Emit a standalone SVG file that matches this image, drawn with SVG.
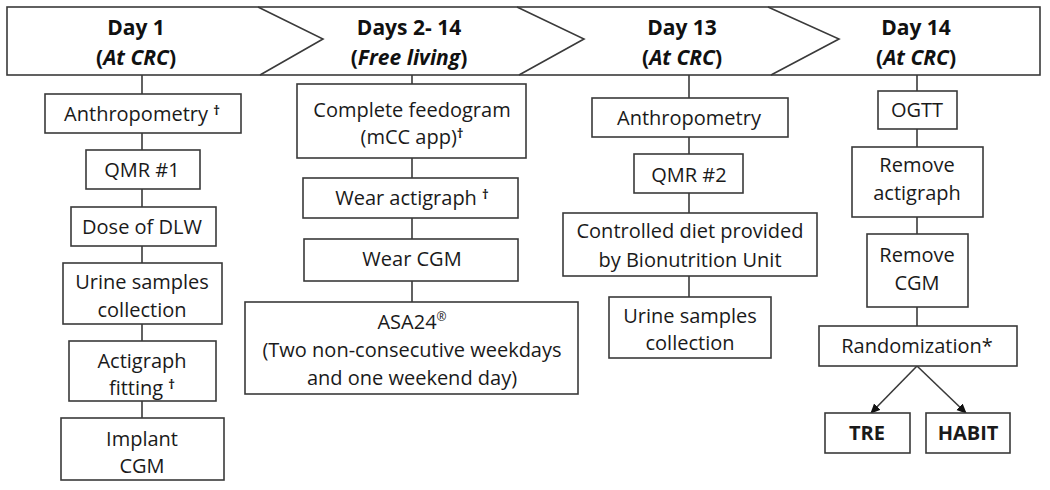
<svg xmlns="http://www.w3.org/2000/svg" width="1050" height="490" viewBox="0 0 1050 490">
<style>
.bx{fill:#fff;stroke:#3a3a3a;stroke-width:1.6}
.ln{fill:none;stroke:#3a3a3a;stroke-width:1.6}
.t{font-family:"Open Sans","Liberation Sans",sans-serif;font-size:20px;fill:#1a1a1a;text-anchor:middle}
.h{font-family:"Open Sans","Liberation Sans",sans-serif;font-size:21px;font-weight:bold;fill:#111;text-anchor:middle}
.b{font-weight:bold}
.i{font-style:italic}
.d{font-size:13px;font-weight:bold}
</style>
<defs>
<marker id="ah" markerWidth="10" markerHeight="10" refX="9" refY="5" orient="auto" markerUnits="userSpaceOnUse">
<path d="M0,0.5 L10,5 L0,9.5 Z" fill="#111"/>
</marker>
</defs>
<rect width="1050" height="490" fill="#fff"/>
<g id="header">
<rect class="bx" x="7" y="7" width="1033" height="68"/>
<polyline class="ln" points="258,7 323,39 260,75"/>
<polyline class="ln" points="517,7 584,39 519,75"/>
<polyline class="ln" points="768,7 839,39 771,75"/>
<text class="h" x="136" y="35">Day 1</text>
<text class="h" x="136" y="65">(<tspan class="i">At CRC</tspan>)</text>
<text class="h" x="409" y="35">Days 2- 14</text>
<text class="h" x="409" y="65">(<tspan class="i">Free living</tspan>)</text>
<text class="h" x="682" y="35">Day 13</text>
<text class="h" x="682" y="65">(<tspan class="i">At CRC</tspan>)</text>
<text class="h" x="916" y="35">Day 14</text>
<text class="h" x="916" y="65">(<tspan class="i">At CRC</tspan>)</text>
</g>
<g id="connectors">
<line class="ln" x1="142" y1="75" x2="142" y2="418"/>
<line class="ln" x1="412" y1="75" x2="412" y2="302"/>
<line class="ln" x1="689" y1="75" x2="689" y2="297"/>
<line class="ln" x1="917" y1="75" x2="917" y2="326"/>
<line class="ln" x1="917" y1="366" x2="871" y2="413" marker-end="url(#ah)"/>
<line class="ln" x1="917" y1="366" x2="966" y2="413" marker-end="url(#ah)"/>
</g>
<g id="n-anthro1"><rect class="bx" x="45" y="94" width="196" height="39"/><text class="t" x="142" y="121">Anthropometry <tspan class="d" dy="-6">†</tspan></text></g>
<g id="n-qmr1"><rect class="bx" x="86" y="150" width="114" height="39"/><text class="t" x="142" y="177">QMR #1</text></g>
<g id="n-dlw"><rect class="bx" x="71" y="207" width="145" height="39"/><text class="t" x="142" y="234">Dose of DLW</text></g>
<g id="n-urine1"><rect class="bx" x="63" y="263" width="159" height="61"/><text class="t" x="142" y="289">Urine samples</text><text class="t" x="142" y="317">collection</text></g>
<g id="n-actifit"><rect class="bx" x="69" y="341" width="147" height="60"/><text class="t" x="142" y="368">Actigraph</text><text class="t" x="142" y="395">fitting <tspan class="d" dy="-6">†</tspan></text></g>
<g id="n-implant"><rect class="bx" x="61" y="418" width="163" height="62"/><text class="t" x="142" y="446">Implant</text><text class="t" x="142" y="473">CGM</text></g>

<g id="n-feedogram"><rect class="bx" x="297" y="84" width="229" height="74"/><text class="t" x="412" y="117">Complete feedogram</text><text class="t" x="412" y="144">(mCC app)<tspan class="d" dy="-6">†</tspan></text></g>
<g id="n-wearacti"><rect class="bx" x="303" y="178" width="215" height="40"/><text class="t" x="412" y="205">Wear actigraph <tspan class="d" dy="-6">†</tspan></text></g>
<g id="n-wearcgm"><rect class="bx" x="304" y="239" width="214" height="42"/><text class="t" x="412" y="266">Wear CGM</text></g>
<g id="n-asa24"><rect class="bx" x="245" y="302" width="333" height="92"/><text class="t" x="412" y="329">ASA24<tspan font-size="12" dy="-8">®</tspan></text><text class="t" x="412" y="357">(Two non-consecutive weekdays</text><text class="t" x="412" y="385">and one weekend day)</text></g>

<g id="n-anthro2"><rect class="bx" x="592" y="98" width="196" height="39"/><text class="t" x="689" y="125">Anthropometry</text></g>
<g id="n-qmr2"><rect class="bx" x="634" y="154" width="109" height="39"/><text class="t" x="689" y="182">QMR #2</text></g>
<g id="n-diet"><rect class="bx" x="563" y="213" width="254" height="63"/><text class="t" x="690" y="238">Controlled diet provided</text><text class="t" x="690" y="267">by Bionutrition Unit</text></g>
<g id="n-urine2"><rect class="bx" x="609" y="297" width="162" height="61"/><text class="t" x="690" y="323">Urine samples</text><text class="t" x="690" y="350">collection</text></g>

<g id="n-ogtt"><rect class="bx" x="878" y="91" width="79" height="38"/><text class="t" x="917" y="117">OGTT</text></g>
<g id="n-remacti"><rect class="bx" x="852" y="147" width="131" height="70"/><text class="t" x="917" y="172">Remove</text><text class="t" x="917" y="200">actigraph</text></g>
<g id="n-remcgm"><rect class="bx" x="867" y="234" width="101" height="73"/><text class="t" x="917" y="262">Remove</text><text class="t" x="917" y="290">CGM</text></g>
<g id="n-random"><rect class="bx" x="819" y="326" width="198" height="40"/><text class="t" x="917" y="353">Randomization*</text></g>
<g id="n-tre"><rect class="bx" x="825" y="413" width="85" height="40"/><text class="t b" x="867" y="440">TRE</text></g>
<g id="n-habit"><rect class="bx" x="926" y="413" width="84" height="40"/><text class="t b" x="968" y="440">HABIT</text></g>
</svg>
